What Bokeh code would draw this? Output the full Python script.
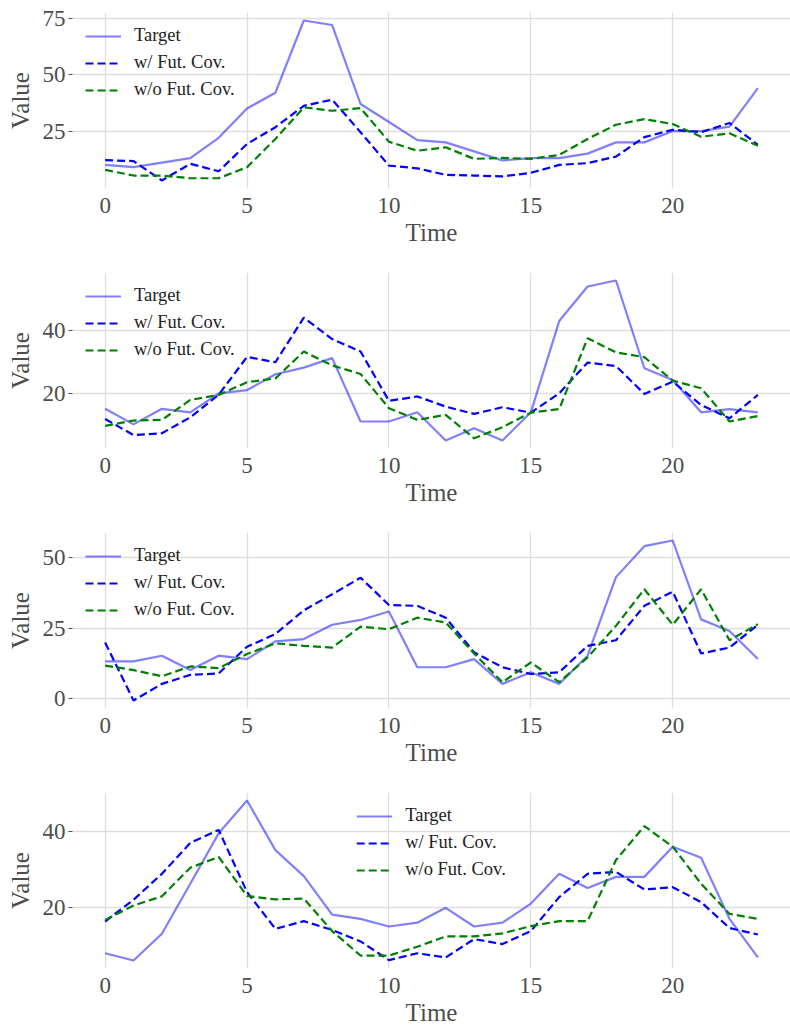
from bokeh.plotting import figure
from bokeh.layouts import column
from bokeh.models import Range1d, FixedTicker
from bokeh.embed import file_html
from bokeh.resources import INLINE

time = list(range(24))

target1 = [10, 9, 11, 13, 22, 35, 42, 74, 72, 37, 29, 21, 20, 16, 12, 13, 13, 15, 20, 20, 25, 25, 27, 44]
with_cov1 = [12.1, 11.7, 3.1, 10.5, 7.2, 19.3, 26.7, 36.2, 38.9, 24.5, 9.7, 8.5, 5.6, 5.3, 4.9, 6.5, 10.0, 10.8, 13.7, 22.3, 25.6, 24.5, 28.6, 18.9]
without_cov1 = [7.8, 5.3, 5.3, 4.1, 4.1, 9.0, 21.5, 35.5, 34.0, 35.2, 20.3, 16.3, 17.8, 12.7, 13.1, 12.7, 14.4, 21.5, 27.8, 30.3, 28.1, 22.5, 24.0, 18.5]

target2 = [15.3, 10.4, 15.3, 14.2, 20.2, 21.2, 26.2, 28.3, 31.3, 11.3, 11.3, 14.2, 5.3, 9.2, 5.3, 14.2, 43.0, 53.9, 55.8, 28.1, 24.4, 14.2, 15.2, 14.2]
with_cov2 = [12.1, 7.0, 7.6, 12.6, 19.7, 31.7, 30.0, 44.1, 37.3, 33.4, 17.8, 19.2, 16.0, 13.7, 15.8, 14.1, 20.2, 29.9, 28.8, 20.0, 23.9, 16.5, 12.3, 19.7]
without_cov2 = [9.9, 11.6, 11.8, 18.1, 19.7, 23.7, 24.9, 33.4, 29.0, 26.3, 15.5, 11.8, 13.4, 6.0, 9.5, 14.1, 15.2, 37.6, 33.1, 31.6, 24.2, 21.8, 11.3, 13.0]

target3 = [13.2, 13.2, 15.2, 10.1, 15.2, 14.0, 20.3, 21.1, 26.2, 27.9, 30.9, 11.1, 11.1, 14.0, 5.2, 9.3, 5.2, 15.2, 43.1, 54.1, 56.1, 28.1, 24.0, 14.0]
with_cov3 = [19.9, -0.7, 5.2, 8.4, 8.9, 18.4, 22.9, 31.3, 37.0, 42.9, 33.2, 32.9, 28.7, 16.4, 11.1, 8.7, 9.3, 18.7, 20.7, 32.9, 37.9, 16.0, 18.1, 26.2]
without_cov3 = [11.7, 10.1, 7.9, 11.4, 10.8, 15.8, 19.6, 18.7, 18.1, 25.5, 24.6, 28.7, 27.0, 16.0, 5.8, 12.8, 5.8, 14.6, 25.8, 38.8, 26.2, 38.8, 20.7, 26.4]

target4 = [8.0, 6.1, 13.1, 26.2, 39.4, 48.0, 35.0, 28.2, 18.1, 17.0, 15.0, 16.0, 19.9, 15.0, 16.0, 21.0, 28.8, 25.1, 28.0, 28.0, 35.9, 33.0, 17.0, 6.9]
with_cov4 = [16.3, 22.0, 28.8, 36.9, 40.3, 24.0, 14.4, 16.4, 14.1, 11.1, 6.2, 8.0, 6.9, 11.7, 10.4, 13.8, 22.7, 28.8, 29.3, 24.7, 25.3, 21.4, 14.6, 12.9]
without_cov4 = [16.7, 20.5, 22.9, 30.4, 33.2, 23.0, 22.1, 22.3, 13.8, 7.4, 7.4, 9.7, 12.4, 12.4, 13.2, 15.1, 16.4, 16.4, 32.4, 41.3, 35.9, 26.2, 18.3, 17.0]

x_ticks = [0, 5, 10, 15, 20]
y_ticks1 = [25, 50, 75]
y_ticks2 = [20, 40]
y_ticks3 = [0, 25, 50]
y_ticks4 = [20, 40]

series_labels = ["Target", "w/ Fut. Cov.", "w/o Fut. Cov."]

FONT = "Liberation Serif"
TICK_COLOR = "#4d4d4d"


def make_panel(target, with_cov, without_cov, yticks, legend_loc, bottom):
    vals = target + with_cov + without_cov
    lo, hi = min(vals), max(vals)
    pad = 0.05 * (hi - lo)
    xpad = 0.05 * (max(time) - min(time))
    p = figure(width=790, frame_width=718, frame_height=176,
               min_border_left=72, min_border_right=0, min_border_top=12,
               min_border_bottom=bottom,
               x_range=Range1d(min(time) - xpad, max(time) + xpad),
               y_range=Range1d(lo - pad, hi + pad),
               output_backend="svg", toolbar_location=None)
    p.outline_line_color = None
    p.background_fill_color = "white"
    p.border_fill_color = "white"

    p.line(time, target, line_color="blue", line_alpha=0.5, line_width=2.2,
           legend_label=series_labels[0])
    p.line(time, with_cov, line_color="blue", line_width=2.2, line_dash="8 4",
           legend_label=series_labels[1])
    p.line(time, without_cov, line_color="green", line_width=2.2, line_dash="8 4",
           legend_label=series_labels[2])

    p.xaxis.ticker = FixedTicker(ticks=x_ticks)
    p.yaxis.ticker = FixedTicker(ticks=yticks)
    p.xgrid.ticker = FixedTicker(ticks=x_ticks)
    p.ygrid.ticker = FixedTicker(ticks=yticks)
    for g in (p.xgrid, p.ygrid):
        g.grid_line_color = "#dedede"
        g.grid_line_width = 1.3

    for ax in (p.xaxis, p.yaxis):
        ax.axis_line_color = None
        ax.minor_tick_line_color = None
        ax.major_label_text_font = FONT
        ax.major_label_text_font_size = "23px"
        ax.major_label_text_color = TICK_COLOR
        ax.axis_label_text_font = FONT
        ax.axis_label_text_font_size = "25px"
        ax.axis_label_text_font_style = "normal"
        ax.axis_label_text_color = TICK_COLOR

    p.xaxis.axis_label = "Time"
    p.xaxis.major_tick_line_color = None
    p.xaxis.major_tick_out = 0
    p.xaxis.major_tick_in = 0
    p.xaxis.major_label_standoff = 9
    p.xaxis.axis_label_standoff = 3

    p.yaxis.axis_label = "Value"
    p.yaxis.major_tick_line_color = TICK_COLOR
    p.yaxis.major_tick_out = 4
    p.yaxis.major_tick_in = 0
    p.yaxis.major_label_standoff = 3
    p.yaxis.axis_label_standoff = 6

    lg = p.legend[0]
    lg.location = legend_loc
    lg.border_line_color = None
    lg.background_fill_alpha = 0
    lg.label_text_font = FONT
    lg.label_text_font_size = "18.5px"
    lg.label_text_color = "#222222"
    lg.glyph_width = 36
    lg.glyph_height = 20
    lg.label_height = 20
    lg.spacing = 6
    lg.label_standoff = 13
    lg.padding = 10
    lg.margin = 13
    return p


p1 = make_panel(target1, with_cov1, without_cov1, y_ticks1, "top_left", 72)
p2 = make_panel(target2, with_cov2, without_cov2, y_ticks2, "top_left", 72)
p3 = make_panel(target3, with_cov3, without_cov3, y_ticks3, "top_left", 72)
p4 = make_panel(target4, with_cov4, without_cov4, y_ticks4, "top_center", 60)

layout = column(p1, p2, p3, p4, spacing=0)

open("out.html", "w").write(file_html(layout, INLINE))
